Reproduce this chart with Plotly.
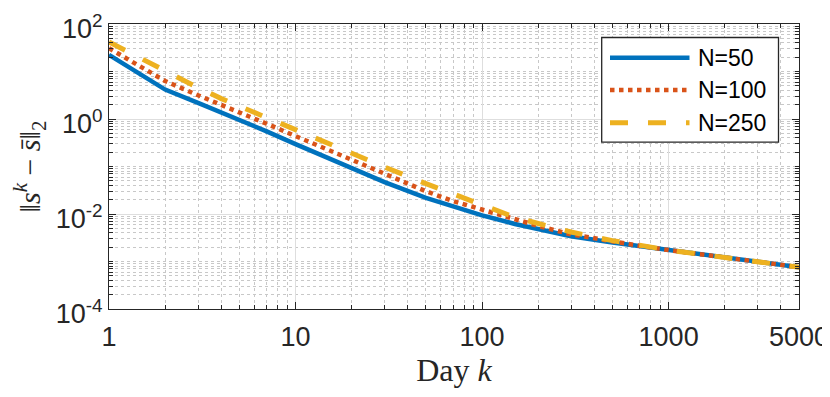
import plotly.graph_objects as go
import math

# ---- data ----
days = [1, 2, 3, 4, 5, 7, 10, 15, 20, 30, 50, 70, 100, 150, 200, 300, 500, 700, 1000, 1500, 2000, 3000, 5000]

err_n50 = [22.4, 4.17, 2.19, 1.38, 0.955, 0.55, 0.295, 0.151, 0.0933, 0.0468, 0.0219, 0.0141, 0.00933,
           0.00617, 0.00479, 0.00339, 0.00251, 0.00209, 0.00174, 0.00141, 0.0012, 0.000977, 0.000759]
err_n100 = [30.9, 6.31, 3.16, 2.0, 1.41, 0.794, 0.437, 0.224, 0.138, 0.0692, 0.0302, 0.0186, 0.0123,
            0.00759, 0.00562, 0.00372, 0.00263, 0.00214, 0.00174, 0.00141, 0.0012, 0.000977, 0.000759]
err_n250 = [41.7, 10.0, 4.57, 2.69, 1.86, 1.07, 0.575, 0.295, 0.186, 0.0977, 0.0437, 0.0263, 0.0151,
            0.00851, 0.00631, 0.00417, 0.00275, 0.00219, 0.00174, 0.00141, 0.0012, 0.000977, 0.000759]

series_names = ["N=50", "N=100", "N=250"]
series_colors = ["#0072BD", "#D95319", "#EDB120"]

x_tickvals = [1, 10, 100, 1000, 5000]
x_ticktext = ["1", "10", "100", "1000", "5000"]
y_tickvals = [1e2, 1e0, 1e-2, 1e-4]
y_ticktext = ["10<sup>2</sup>", "10<sup>0</sup>", "10<sup>-2</sup>", "10<sup>-4</sup>"]

x_minor = [m * 10 ** k for k in range(0, 3) for m in range(2, 10)] + [2000, 3000, 4000]
y_minor = [m * 10.0 ** k for k in range(-4, 2) for m in range(1, 10) if not (m == 1 and k % 2 == 0)]

# ---- layout geometry (the page has an 8px body margin) ----
OFF = 8
W, H = 830 - OFF, 397 - OFF
L, R, T, B = 109 - OFF, 31, 24 - OFF, 88
pw, ph = W - L - R, H - T - B


def px2paper(x, y):
    # x, y given in window pixels
    x -= OFF
    y -= OFF
    return (x - L) / pw, (H - B - y) / ph


fig = go.Figure()

styles = [
    dict(width=4.5, dash="solid"),
    dict(width=4.5, dash="dot"),
    dict(width=5, dash="18px,20px"),
]
for name, ys, col, st in zip(series_names, [err_n50, err_n100, err_n250], series_colors, styles):
    fig.add_trace(go.Scatter(x=days, y=ys, mode="lines", name=name,
                             line=dict(color=col, width=st["width"], dash=st["dash"]),
                             showlegend=False, hoverinfo="skip"))

axis_color = "#262626"
major_grid = "#dedede"
minor_grid = "#c8c8c8"
tick_font = dict(family="Liberation Sans, Arial, sans-serif", size=27, color="#262626")

fig.update_xaxes(type="log", range=[0, math.log10(5000)], automargin=False,
                 ticklabeloverflow="allow", ticklabelstandoff=4,
                 tickmode="array", tickvals=x_tickvals, ticktext=x_ticktext,
                 ticks="inside", ticklen=7, tickcolor=axis_color, tickwidth=1,
                 showline=True, linecolor=axis_color, linewidth=1, mirror="ticks",
                 showgrid=True, gridcolor=major_grid, gridwidth=1,
                 minor=dict(tickmode="array", tickvals=x_minor, ticks="inside", ticklen=4,
                            tickcolor=axis_color, showgrid=True, gridcolor=minor_grid,
                            griddash="dot", gridwidth=1),
                 tickfont=tick_font,
                 title=dict(text="Day <i>k</i>", font=dict(family="Liberation Serif, serif", size=32, color="#262626"),
                            standoff=4),
                 zeroline=False)
fig.update_yaxes(type="log", range=[-4, 2], automargin=False,
                 ticklabeloverflow="allow", ticklabelshift=5,
                 tickmode="array", tickvals=y_tickvals, ticktext=y_ticktext,
                 ticks="inside", ticklen=7, tickcolor=axis_color, tickwidth=1,
                 showline=True, linecolor=axis_color, linewidth=1, mirror="ticks",
                 showgrid=True, gridcolor=major_grid, gridwidth=1,
                 minor=dict(tickmode="array", tickvals=y_minor, ticks="inside", ticklen=4,
                            tickcolor=axis_color, showgrid=True, gridcolor=minor_grid,
                            griddash="dot", gridwidth=1),
                 tickfont=tick_font,
                 title=dict(text="‖<i>s</i><sup><i>k</i></sup> − <i>s̄</i>‖<sub>2</sub>",
                            font=dict(family="Liberation Serif, serif", size=30, color="#262626"),
                            standoff=18),
                 zeroline=False)

# ---- custom legend (box, samples, labels) ----
bx0, by0 = px2paper(601.7, 142.2)
bx1, by1 = px2paper(778.5, 37.5)
shapes = [dict(type="rect", xref="paper", yref="paper", x0=bx0, y0=by0, x1=bx1, y1=by1,
               line=dict(color=axis_color, width=1.3), fillcolor="white", layer="above")]
annotations = []
row_y = [57.7, 90.0, 122.7]
for name, col, st, ry in zip(series_names, series_colors, styles, row_y):
    lx0, ly = px2paper(610, ry)
    lx1, _ = px2paper(689.5, ry)
    shapes.append(dict(type="line", xref="paper", yref="paper", x0=lx0, y0=ly, x1=lx1, y1=ly,
                       line=dict(color=col, width=st["width"], dash=st["dash"]), layer="above"))
    tx, _ = px2paper(695.5, ry)
    annotations.append(dict(xref="paper", yref="paper", x=tx, y=ly, text=name, showarrow=False,
                            xanchor="left", yanchor="middle",
                            font=dict(family="Liberation Sans, Arial, sans-serif", size=23, color="#000000")))

fig.update_layout(width=W, height=H, margin=dict(l=L, r=R, t=T, b=B, autoexpand=False),
                  paper_bgcolor="white", plot_bgcolor="white",
                  shapes=shapes, annotations=annotations, showlegend=False)

fig.write_html("out.html")
